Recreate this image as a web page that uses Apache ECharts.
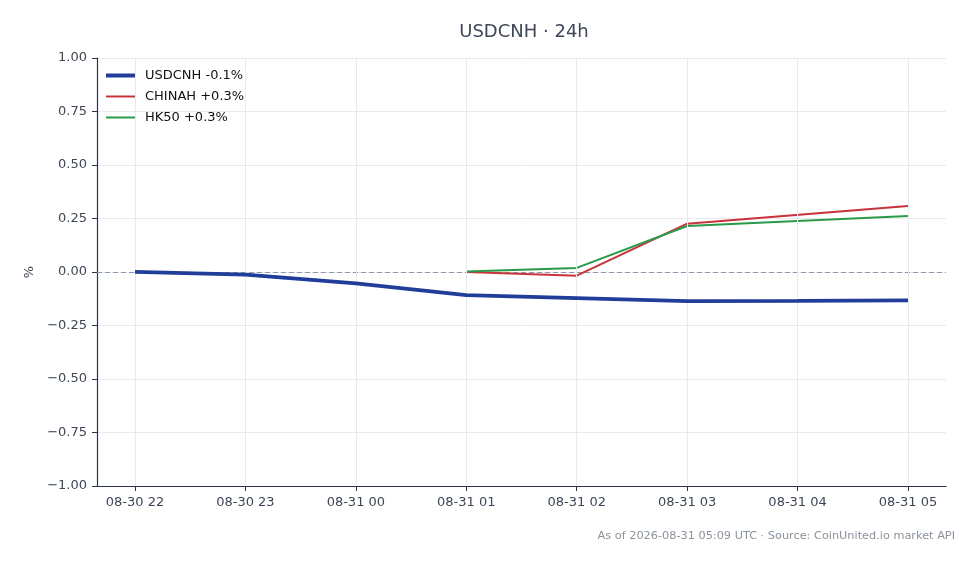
<!DOCTYPE html>
<html>
<head>
<meta charset="utf-8">
<script src="https://cdn.jsdelivr.net/npm/echarts@6/dist/echarts.min.js"></script>
<style>
  html, body { margin: 0; padding: 0; background: #fff; }
  #main { width: 978px; height: 564px; }
</style>
</head>
<body>
<div id="main"></div>
<script>
// hourly tick labels (x positions are hour index 0..7)
var hours = ['08-30 22', '08-30 23', '08-31 00', '08-31 01', '08-31 02', '08-31 03', '08-31 04', '08-31 05'];
var usdcnh = [0.001, -0.012, -0.053, -0.108, -0.122, -0.136, -0.135, -0.133];
var chinah = [null, null, null, 0.0, -0.017, 0.226, null, 0.308];
var hk50 = [null, null, null, 0.002, 0.019, 0.215, null, 0.262];

var fontFamily = 'DejaVu Sans';
var textColor = '#3d4757';
var axisColor = '#2b3545';
var gridColor = '#e8eaee';

function pairs(arr) {
    var out = [];
    for (var i = 0; i < arr.length; i++) {
        out.push([i, arr[i]]);
    }
    return out;
}

var myChart = echarts.init(document.getElementById('main'));

myChart.setOption({
    animation: false,
    backgroundColor: '#ffffff',
    title: [{
        text: 'USDCNH · 24h',
        left: 519,
        top: 18,
        textAlign: 'center',
        textStyle: { fontFamily: fontFamily, fontSize: 18, fontWeight: 'normal', color: textColor }
    }, {
        text: 'As of 2026-08-31 05:09 UTC · Source: CoinUnited.io market API',
        right: 18,
        top: 526,
        textStyle: { fontFamily: fontFamily, fontSize: 11.3, fontWeight: 'normal', color: '#8a939e' }
    }],
    legend: {
        left: 99,
        top: 64,
        orient: 'vertical',
        itemWidth: 30,
        itemHeight: 12,
        itemGap: 8,
        itemStyle: { opacity: 0 },
        textStyle: { fontFamily: fontFamily, fontSize: 13, color: '#111', padding: [0, 0, 0, 4] },
        data: [
            { name: 'USDCNH -0.1%', lineStyle: { width: 4 } },
            { name: 'CHINAH +0.3%', lineStyle: { width: 2 } },
            { name: 'HK50 +0.3%', lineStyle: { width: 2 } }
        ]
    },
    grid: { left: 97, right: 32, top: 58, bottom: 78 },
    xAxis: {
        type: 'value',
        min: -0.344,
        max: 7.344,
        axisLine: { show: true, onZero: false, lineStyle: { color: axisColor, width: 1.2 } },
        axisTick: { show: true, length: 5, customValues: [0, 1, 2, 3, 4, 5, 6, 7], lineStyle: { color: axisColor } },
        axisLabel: {
            customValues: [0, 1, 2, 3, 4, 5, 6, 7],
            formatter: function (v) { return hours[Math.round(v)]; },
            fontFamily: fontFamily, fontSize: 13, color: textColor, margin: 10
        },
        splitLine: { show: false }
    },
    yAxis: {
        type: 'value',
        min: -1,
        max: 1,
        interval: 0.25,
        name: '%',
        nameLocation: 'middle',
        nameGap: 61,
        nameRotate: 90,
        nameTextStyle: { fontFamily: fontFamily, fontSize: 13, color: textColor },
        axisLine: { show: true, onZero: false, lineStyle: { color: axisColor, width: 1.2 } },
        axisTick: { show: true, length: 5, lineStyle: { color: axisColor } },
        axisLabel: {
            formatter: function (v) { return v.toFixed(2).replace('-', '\u2212'); },
            fontFamily: fontFamily, fontSize: 13, color: textColor, margin: 10
        },
        splitLine: { show: true, lineStyle: { color: gridColor, width: 1 } }
    },
    series: [{
        name: 'grid-x',
        type: 'line',
        data: [],
        silent: true,
        markLine: {
            symbol: 'none',
            silent: true,
            label: { show: false },
            lineStyle: { color: gridColor, width: 1, type: 'solid' },
            data: hours.map(function (h, i) { return { xAxis: i }; })
        }
    }, {
        name: 'USDCNH -0.1%',
        type: 'line',
        data: pairs(usdcnh),
        symbol: 'none',
        color: '#1f3d99',
        lineStyle: { width: 3.8, color: '#1f3d99' },
        z: 5,
        markLine: {
            symbol: 'none',
            silent: true,
            label: { show: false },
            lineStyle: { color: '#8c99aa', width: 1, type: [5, 3] },
            data: [{ yAxis: 0 }],
            z: 1
        }
    }, {
        name: 'CHINAH +0.3%',
        type: 'line',
        data: pairs(chinah),
        connectNulls: true,
        symbol: 'none',
        color: '#c8323a',
        lineStyle: { width: 2, color: '#c8323a' },
        z: 4
    }, {
        name: 'HK50 +0.3%',
        type: 'line',
        data: pairs(hk50),
        connectNulls: true,
        symbol: 'none',
        color: '#2a9a4a',
        lineStyle: { width: 2, color: '#2a9a4a' },
        z: 4
    }]
});
</script>
</body>
</html>
